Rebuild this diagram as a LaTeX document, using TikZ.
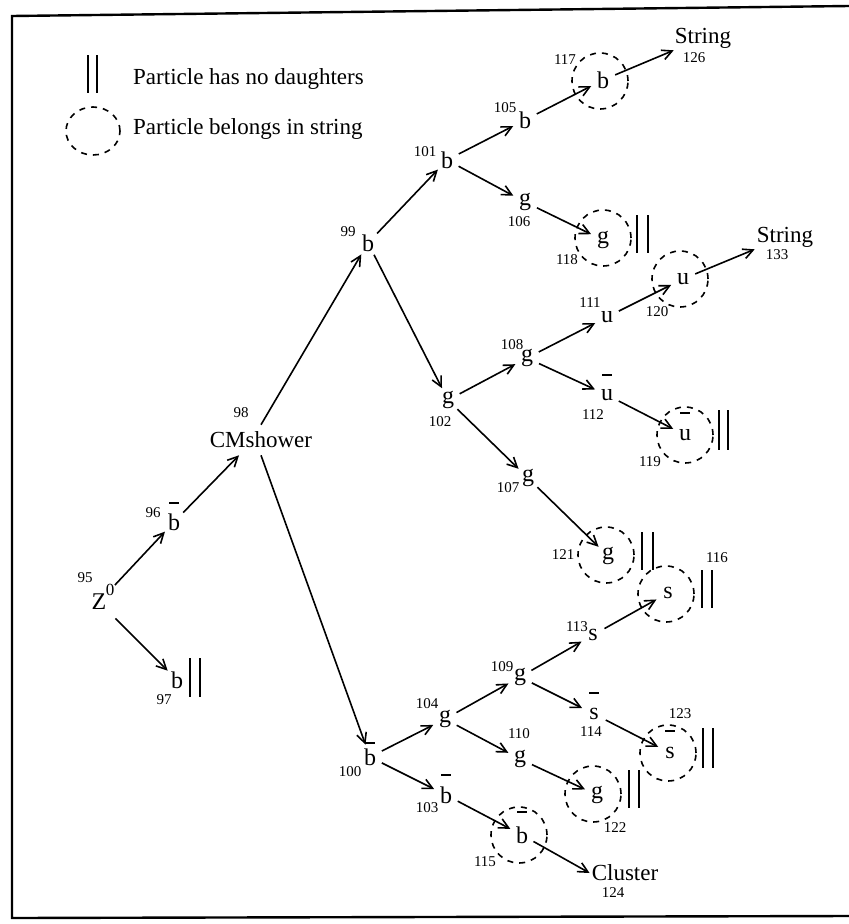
\documentclass[tikz,border=0pt]{standalone}
\usepackage{fontspec}
\setmainfont{Liberation Serif}
\usetikzlibrary{arrows.meta}
\begin{document}
\begin{tikzpicture}[x=1pt,y=-1pt,
  ptl/.style={circle, inner sep=0pt, minimum size=26pt, font=\fontsize{24}{26}\selectfont},
  num/.style={inner sep=0pt, font=\fontsize{15}{16}\selectfont},
  word/.style={inner xsep=2pt, inner ysep=2pt, font=\fontsize{23}{26}\selectfont},
  ring/.style={circle, draw, line width=1.6pt, dash pattern=on 6pt off 6pt, minimum size=56pt, inner sep=0pt},
  arr/.style={-{Straight Barb[length=10pt,width=10pt]}, line width=1.6pt},
  barline/.style={line width=1.8pt},
  nodau/.style={line width=2.2pt}
]
\useasboundingbox (0,0) rectangle (849,924);
% frame
\draw[line width=2.4pt] (849,6) -- (12,16) -- (12,918) -- (849,916);

% legend
\draw[nodau] (88,55) -- (88,93) (97,55) -- (97,93);
\node[word, anchor=west] (lg1) at (131,79) {Particle has no daughters};
\draw[line width=1.6pt, dash pattern=on 6pt off 6pt] (93,131) ellipse [x radius=27pt, y radius=24pt];
\node[word, anchor=west] (lg2) at (131,129) {Particle belongs in string};

% rings
\node[ring] (c115) at (519,835) {};
\node[ring] (c116) at (666,594) {};
\node[ring] (c117) at (600,81) {};
\node[ring] (c118) at (603,238) {};
\node[ring] (c119) at (685,435) {};
\node[ring] (c120) at (680,279) {};
\node[ring] (c121) at (606,555) {};
\node[ring] (c122) at (593,794) {};
\node[ring] (c123) at (668,753) {};

% particles
\node[ptl, minimum size=46pt] (n95) at (99,602) {Z};
\node[inner sep=0pt, font=\fontsize{17}{18}\selectfont] (z0) at (110,590) {0};
\node[ptl] (n96) at (174,522) {b};
\node[ptl] (n97) at (177,680) {b};
\node[word, inner xsep=1pt, inner ysep=7pt] (n98) at (261,440) {CMshower};
\node[ptl] (n99) at (368,243) {b};
\node[ptl] (n100) at (370,757) {b};
\node[ptl] (n101) at (447,160) {b};
\node[ptl] (n102) at (448,400) {g};
\node[ptl] (n103) at (446,795) {b};
\node[ptl] (n104) at (445,719) {g};
\node[ptl] (n105) at (525,120) {b};
\node[ptl] (n106) at (525,202) {g};
\node[ptl] (n107) at (528,478) {g};
\node[ptl] (n108) at (527,358) {g};
\node[ptl] (n109) at (520,677) {g};
\node[ptl] (n110) at (520,759) {g};
\node[ptl] (n111) at (607,317) {u};
\node[ptl] (n112) at (607,395) {u};
\node[ptl] (n113) at (593,635) {s};
\node[ptl] (n114) at (594,714) {s};
\node[ptl] (n115) at (522,835) {b};
\node[ptl] (n116) at (668,593) {s};
\node[ptl] (n117) at (603,80) {b};
\node[ptl] (n118) at (603,240) {g};
\node[ptl] (n119) at (685,435) {u};
\node[ptl] (n120) at (683,279) {u};
\node[ptl] (n121) at (608,556) {g};
\node[ptl] (n122) at (597,795) {g};
\node[ptl] (n123) at (670,753) {s};
\node[word] (s124) at (625,873) {Cluster};
\node[word] (s126) at (703,38) {String};
\node[word] (s133) at (785,237) {String};

% bars (antiparticles)
\foreach \n/\h in {n96/19,n100/14,n103/20,n112/20,n114/21,n115/23,n119/22,n123/22}
  \draw[barline] ([shift={(-5pt,\h pt)}]\n.center) -- ++(10pt,0);

% numbers
\node[num] (l95) at (85,578) {95};
\node[num] (l96) at (153,513) {96};
\node[num] (l97) at (164,700) {97};
\node[num] (l98) at (241,413) {98};
\node[num] (l99) at (348,232) {99};
\node[num] (l100) at (350,772) {100};
\node[num] (l101) at (425,152) {101};
\node[num] (l102) at (440,422) {102};
\node[num] (l103) at (427,808) {103};
\node[num] (l104) at (427,704) {104};
\node[num] (l105) at (505,108) {105};
\node[num] (l106) at (519,222) {106};
\node[num] (l107) at (508,488) {107};
\node[num] (l108) at (512,345) {108};
\node[num] (l109) at (502,667) {109};
\node[num] (l110) at (519,734) {110};
\node[num] (l111) at (590,303) {111};
\node[num] (l112) at (593,415) {112};
\node[num] (l113) at (577,627) {113};
\node[num] (l114) at (591,732) {114};
\node[num] (l115) at (485,862) {115};
\node[num] (l116) at (717,558) {116};
\node[num] (l117) at (565,60) {117};
\node[num] (l118) at (567,260) {118};
\node[num] (l119) at (650,462) {119};
\node[num] (l120) at (657,312) {120};
\node[num] (l121) at (563,555) {121};
\node[num] (l122) at (615,828) {122};
\node[num] (l123) at (680,714) {123};
\node[num] (l124) at (613,893) {124};
\node[num] (l126) at (694,58) {126};
\node[num] (l133) at (777,255) {133};

% no-daughter marks
\draw[nodau] (190,658) -- (190,697) (200,658) -- (200,697);
\draw[nodau] (637,215) -- (637,253) (648,215) -- (648,253);
\draw[nodau] (719,410) -- (719,450) (728,410) -- (728,450);
\draw[nodau] (642,532) -- (642,570) (653,532) -- (653,570);
\draw[nodau] (702,570) -- (702,608) (712,570) -- (712,608);
\draw[nodau] (703,728) -- (703,768) (713,728) -- (713,768);
\draw[nodau] (629,770) -- (629,808) (639,770) -- (639,808);

% connectors
\draw[arr] (n95) -- (n96);
\draw[arr] (n95) -- (n97);
\draw[arr] (n96) -- ([xshift=-22pt]n98.south);
\draw[arr] (n98.north) -- (n99);
\draw[arr] (n98.south) -- (n100);
\draw[arr] (n99) -- (n101);
\draw[arr] (n99) -- (n102);
\draw[arr] (n101) -- (n105);
\draw[arr] (n101) -- (n106);
\draw[arr] (n105) -- (n117);
\draw[arr] (n117) -- (s126);
\draw[arr] (n106) -- (n118);
\draw[arr] (n102) -- (n108);
\draw[arr] (n102) -- (n107);
\draw[arr] (n108) -- (n111);
\draw[arr] (n108) -- (n112);
\draw[arr] (n111) -- (n120);
\draw[arr] (n120) -- (s133.south west);
\draw[arr] (n112) -- (n119);
\draw[arr] (n107) -- (n121);
\draw[arr] (n100) -- (n104);
\draw[arr] (n100) -- (n103);
\draw[arr] (n104) -- (n109);
\draw[arr] (n104) -- (n110);
\draw[arr] (n109) -- (n113);
\draw[arr] (n109) -- (n114);
\draw[arr] (n113) -- (n116);
\draw[arr] (n114) -- (n123);
\draw[arr] (n110) -- (n122);
\draw[arr] (n103) -- (n115);
\draw[arr] (n115) -- (s124.west);
\end{tikzpicture}
\end{document}
